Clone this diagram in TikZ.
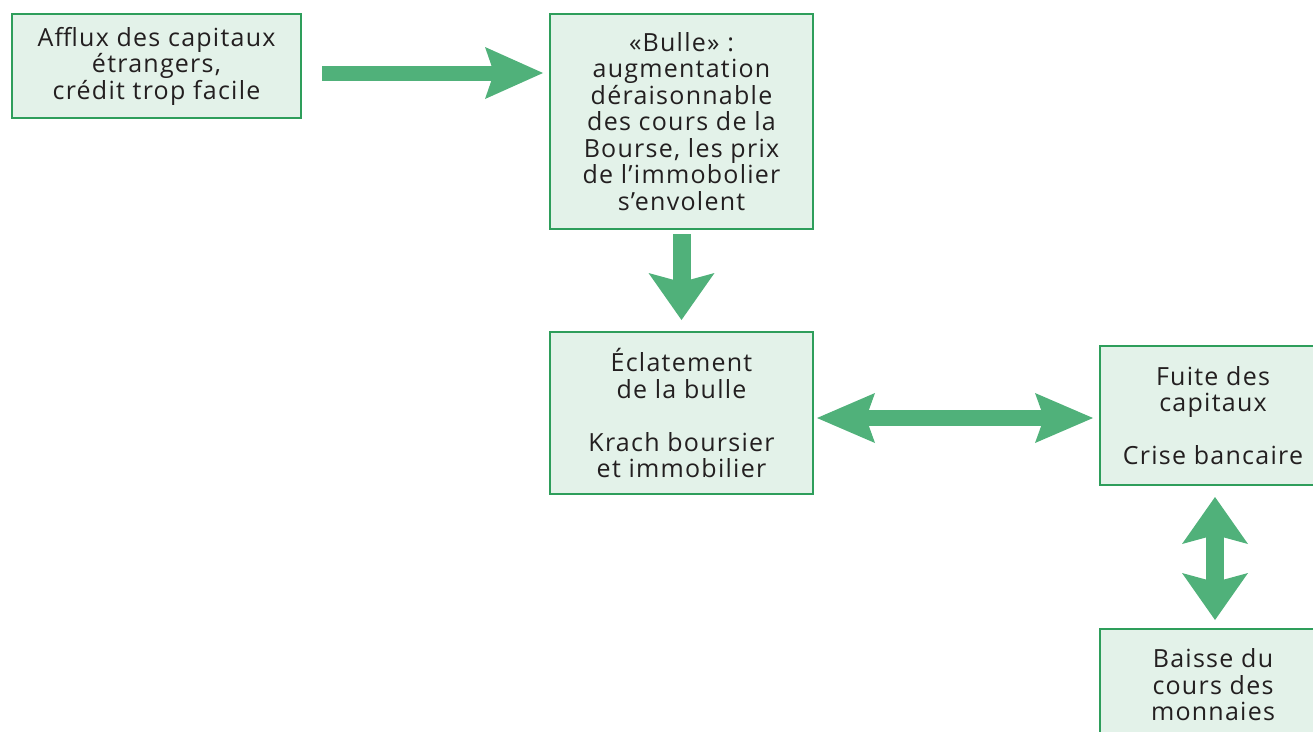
\documentclass[tikz,border=0pt]{standalone}
\usepackage{fontspec}
\setmainfont[LetterSpace=5]{Open Sans}
\usetikzlibrary{arrows.meta,calc}
\definecolor{boxfill}{HTML}{E3F2E9}
\definecolor{boxline}{HTML}{2E9E5B}
\definecolor{arrowgreen}{HTML}{50B17A}
\definecolor{txt}{HTML}{231F20}
\begin{document}
\begin{tikzpicture}[x=1pt,y=-1pt,
  box/.style={draw=boxline,line width=2pt,fill=boxfill,anchor=north west,inner sep=0pt,
    align=center,text=txt,font=\fontsize{25}{26.5}\selectfont},
  harrow/.style={draw=arrowgreen,line width=15pt,
    -{Stealth[length=58pt,width=52pt,inset=9pt,line width=0pt,fill=arrowgreen]}},
  hdarrow/.style={draw=arrowgreen,line width=16pt,
    {Stealth[length=58pt,width=50pt,inset=9pt,line width=0pt,fill=arrowgreen]}-{Stealth[length=58pt,width=50pt,inset=9pt,line width=0pt,fill=arrowgreen]}},
  varrow/.style={draw=arrowgreen,line width=18pt,
    -{Stealth[length=47pt,width=66pt,inset=9pt,line width=0pt,fill=arrowgreen]}},
  vdarrow/.style={draw=arrowgreen,line width=18pt,
    {Stealth[length=47pt,width=66pt,inset=9pt,line width=0pt,fill=arrowgreen]}-{Stealth[length=47pt,width=66pt,inset=9pt,line width=0pt,fill=arrowgreen]}}
]
\useasboundingbox (0,0) rectangle (1313,731);
\node[box,minimum width=289pt,minimum height=104pt] (b1) at (11,13)
  {Afflux des capitaux\\étrangers,\\crédit trop facile};
\node[box,minimum width=263pt,minimum height=215pt] (b2) at (549,13)
  {«Bulle» :\\augmentation\\déraisonnable\\des cours de la\\Bourse, les prix\\de l’immobolier\\s’envolent};
\node[box,minimum width=263pt,minimum height=162pt] (b3) at (549,331)
  {Éclatement\\de la bulle\\[26.5pt]Krach boursier\\et immobilier};
\node[box,minimum width=226pt,minimum height=139pt] (b4) at (1099,345)
  {Fuite des\\capitaux\\[26.5pt]Crise bancaire};
\node[box,minimum width=226pt,minimum height=112pt] (b5) at (1099,628)
  {Baisse du\\cours des\\monnaies};
\coordinate (vx) at (1215,0);
\draw[harrow] ($(b1.east)+(20,7)$) -- ($(b1.east -| b2.west)+(-6,7)$);
\draw[varrow] ($(b2.south)+(0,4)$) -- ($(b3.north)+(0,-11)$);
\draw[hdarrow] ($(b3.east)+(3,5)$) -- ($(b3.east -| b4.west)+(-6,5)$);
\draw[vdarrow] ($(b4.south -| vx)+(0,11)$) -- ($(b5.north -| vx)+(0,-8)$);
\end{tikzpicture}
\end{document}
